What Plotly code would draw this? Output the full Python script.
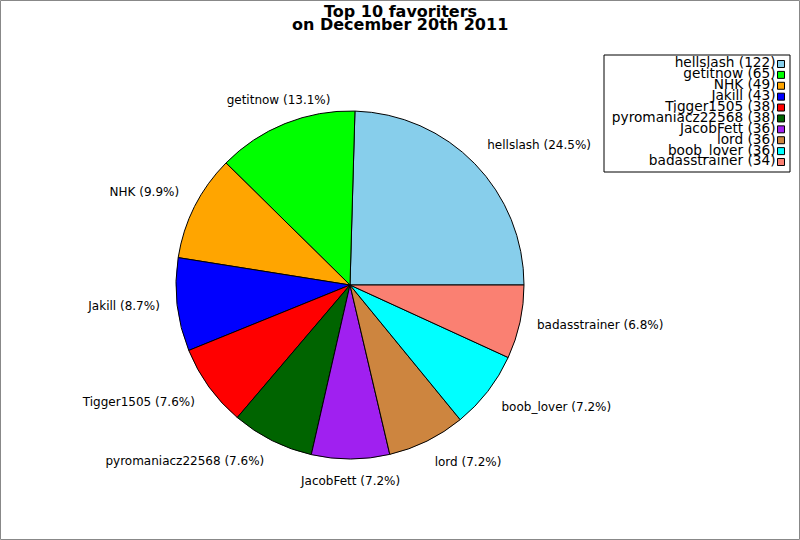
import numpy as np
import plotly.graph_objects as go

names = ["hellslash", "getitnow", "NHK", "Jakill", "Tigger1505", "pyromaniacz22568",
         "JacobFett", "lord", "boob_lover", "badasstrainer"]
counts = [122, 65, 49, 43, 38, 38, 36, 36, 36, 34]
colors = ["#87CEEB", "#00FF00", "#FFA500", "#0000FF", "#FF0000", "#006400",
          "#A020F0", "#CD853F", "#00FFFF", "#FA8072"]

total = sum(counts)
legend_text = [f"{n} ({c})" for n, c in zip(names, counts)]
pie_text = [f"{n} ({100 * c / total:.1f}%)" for n, c in zip(names, counts)]

# first slice starts at 3 o'clock and runs counterclockwise
first_rotation = 90 - 360 * counts[0] / total

# label angles (degrees ccw from 3 o'clock) at the middle of each slice
cum = np.cumsum(counts)
mid_deg = (cum - np.array(counts) / 2) / total * 360
label_pos = []
for a in mid_deg:
    c, s = np.cos(np.radians(a)), np.sin(np.radians(a))
    vert = "middle" if abs(s) < 0.4 else ("top" if s > 0 else "bottom")
    if c > 0.4:
        label_pos.append(f"{vert} right")
    elif c < -0.4:
        label_pos.append(f"{vert} left")
    else:
        label_pos.append("top center" if s > 0 else "bottom center")

W, H = 800, 540
font = "DejaVu Sans"
cx, cy, R = 350, 285, 174          # pie centre and radius in pixels
pie_dom = dict(x=[(cx - R) / W, (cx + R) / W], y=[1 - (cy + R) / H, 1 - (cy - R) / H])
k = 1.2                             # polar overlay extends to 1.2 pie radii
pol_dom = dict(x=[(cx - k * R) / W, (cx + k * R) / W], y=[1 - (cy + k * R) / H, 1 - (cy - k * R) / H])

fig = go.Figure()
fig.add_trace(go.Pie(
    labels=names, values=counts, textinfo="none",
    sort=False, direction="counterclockwise",
    rotation=first_rotation, showlegend=False, hoverinfo="skip",
    marker=dict(colors=colors, line=dict(color="black", width=1)),
    domain=pie_dom,
))

# slice labels outside the pie
fig.add_trace(go.Scatterpolar(
    theta=mid_deg, r=[1.1] * len(names), mode="text", text=pie_text,
    textposition=label_pos, textfont=dict(family=font, size=12, color="black"),
    showlegend=False, hoverinfo="skip", cliponaxis=False,
))

# legend drawn as a scatter on its own axes
fig.add_trace(go.Scatter(
    x=[0.9516] * len(names), y=list(range(len(names))), mode="markers+text",
    text=legend_text, textposition="middle left",
    textfont=dict(family=font, size=13.7, color="black"),
    marker=dict(symbol="square", size=7, color=colors, line=dict(color="black", width=1)),
    showlegend=False, hoverinfo="skip", cliponaxis=False,
))

fig.update_layout(
    width=W, height=H, margin=dict(l=0, r=0, t=0, b=0),
    paper_bgcolor="white", plot_bgcolor="rgba(0,0,0,0)",
    polar=dict(domain=pol_dom, bgcolor="rgba(0,0,0,0)",
               radialaxis=dict(range=[0, k], visible=False),
               angularaxis=dict(visible=False, direction="counterclockwise", rotation=0)),
    xaxis=dict(domain=[604 / W, 790 / W], range=[0, 1], visible=False, fixedrange=True),
    yaxis=dict(domain=[1 - 172 / H, 1 - 55 / H], range=[9.917, -0.826], visible=False, fixedrange=True),
    shapes=[
        dict(type="rect", xref="paper", yref="paper", x0=604 / W, x1=790 / W,
             y0=1 - 172 / H, y1=1 - 55 / H, line=dict(color="black", width=1)),
        dict(type="rect", xref="paper", yref="paper", x0=0.5 / W, x1=1 - 0.5 / W,
             y0=0.5 / H, y1=1 - 0.5 / H, line=dict(color="#888888", width=1)),
    ],
    annotations=[
        dict(text="<b>Top 10 favoriters</b>", x=0.5, y=1 - 11 / H, xref="paper", yref="paper",
             showarrow=False, yanchor="middle", font=dict(family=font, size=16, color="black")),
        dict(text="<b>on December 20th 2011</b>", x=0.5, y=1 - 25 / H, xref="paper", yref="paper",
             showarrow=False, yanchor="middle", font=dict(family=font, size=16, color="black")),
    ],
)

fig.write_html("out.html", config={"displayModeBar": False},
               post_script="document.body.style.margin='0';")
